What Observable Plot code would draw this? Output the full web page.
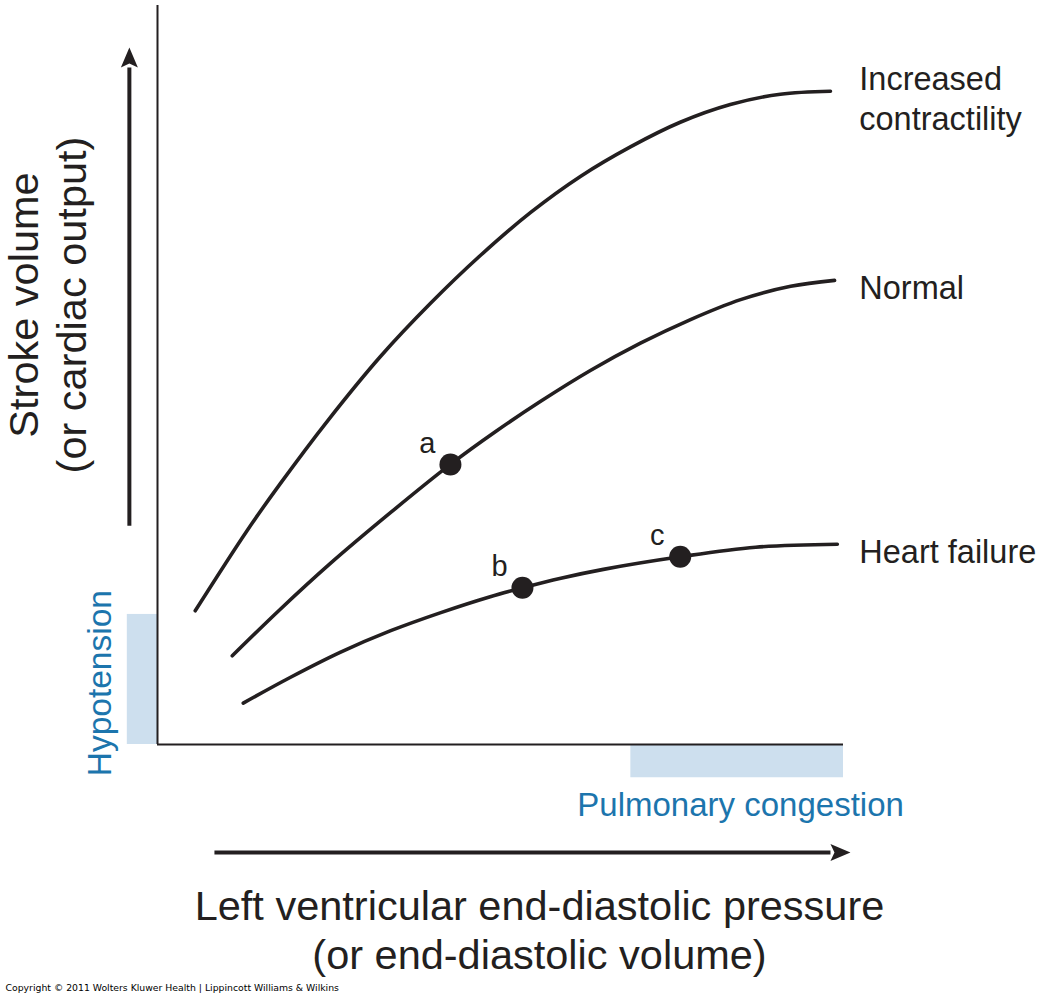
<!DOCTYPE html>
<html>
<head>
<meta charset="utf-8">
<script src="https://cdn.jsdelivr.net/npm/d3@7"></script>
<script src="https://cdn.jsdelivr.net/npm/@observablehq/plot@0.6"></script>
<style>
  html, body { margin: 0; padding: 0; background: #fff; }
</style>
</head>
<body>
<div id="chart"></div>
<script>
// ---- Data (arbitrary units: LVEDP 0–100, stroke volume 0–100) ----
const curveNames = ["Increased contractility", "Normal", "Heart failure"];
const curveLabels = ["Increased\ncontractility", "Normal", "Heart failure"];
const curveLabelX = [102.3, 102.3, 102.3];

const increasedX = [5.5, 13.1, 17.9, 24.8, 32.5, 39.8, 47.1, 54.4, 61.7, 69.0, 76.2, 83.5, 90.8, 98.1];
const increasedY = [18.1, 29.0, 35.3, 43.8, 52.5, 59.7, 66.2, 72.0, 76.9, 80.9, 84.2, 86.6, 88.0, 88.4];

const normalX = [10.9, 17.9, 25.2, 34.0, 42.7, 49.3, 55.8, 63.1, 70.4, 77.7, 85.0, 92.3, 98.7];
const normalY = [12.0, 18.3, 24.5, 31.4, 37.9, 42.35, 46.4, 50.6, 54.3, 57.5, 60.2, 62.0, 62.8];

const failureX = [12.5, 19.4, 26.7, 34.0, 41.3, 48.5, 53.2, 58.8, 65.0, 76.2, 87.2, 99.1];
const failureY = [5.6, 9.1, 12.5, 15.4, 17.85, 20.0, 21.2, 22.5, 23.7, 25.4, 26.7, 27.1];

const pointNames = ["a", "b", "c"];
const pointX = [42.7, 53.2, 76.2];
const pointY = [37.9, 21.2, 25.4];

// shaded zones
const zoneNames = ["Hypotension", "Pulmonary congestion"];
const zoneX1 = [-4.4, 69.0];
const zoneX2 = [0, 100];
const zoneY1 = [0, 0];
const zoneY2 = [17.6, -4.5];
const zoneLabelX = [-8.3, 85.0];
const zoneLabelY = [8.3, -8.3];
const zoneLabelRotate = [-90, 0];

// direction arrows (shaft start -> shaft end, head beyond)
const arrowX1 = [-4.1, 8.3];
const arrowY1 = [29.6, -14.6];
const arrowX2 = [-4.1, 98.1];
const arrowY2 = [91.6, -14.6];
const arrowRotate = [0, 90];

// ---- Build tables ----
const curves = [
  [increasedX, increasedY],
  [normalX, normalY],
  [failureX, failureY]
];
const lineRows = curves.flatMap(([xs, ys], i) =>
  xs.map((x, j) => ({curve: curveNames[i], x, y: ys[j]})));
const endRows = curves.map(([xs, ys], i) =>
  ({curve: curveNames[i], label: curveLabels[i], x: curveLabelX[i], y: ys[ys.length - 1]}));
const pointRows = pointNames.map((n, i) => ({name: n, x: pointX[i], y: pointY[i]}));
const zoneRows = zoneNames.map((n, i) => ({
  name: n, x1: zoneX1[i], x2: zoneX2[i], y1: zoneY1[i], y2: zoneY2[i],
  lx: zoneLabelX[i], ly: zoneLabelY[i], rot: zoneLabelRotate[i]
}));
const arrowRows = arrowX1.map((x1, i) => ({
  x1, y1: arrowY1[i], x2: arrowX2[i], y2: arrowY2[i], rot: arrowRotate[i]
}));

const ink = "#231f20";
const blue = "#1c75ad";
const shade = "#cddfee";

const arrowHead = {
  draw(ctx) {
    ctx.moveTo(0, -20);
    ctx.lineTo(8.5, 0);
    ctx.lineTo(0, -4);
    ctx.lineTo(-8.5, 0);
    ctx.closePath();
  }
};

const chart = Plot.plot({
  width: 1045,
  height: 1000,
  marginLeft: 157,
  marginRight: 202,
  marginTop: 5,
  marginBottom: 256,
  style: {fontFamily: "'Liberation Sans', Arial, Helvetica, sans-serif", background: "#fff"},
  x: {domain: [0, 100], axis: null},
  y: {domain: [0, 100], axis: null},
  marks: [
    // shaded zones
    Plot.rect(zoneRows, {x1: "x1", x2: "x2", y1: "y1", y2: "y2", fill: shade}),
    Plot.text(zoneRows.filter(d => d.rot !== 0), {x: "lx", y: "ly", text: "name", rotate: -90, fill: blue, fontSize: 33.5}),
    Plot.text(zoneRows.filter(d => d.rot === 0), {x: "lx", y: "ly", text: "name", fill: blue, fontSize: 33}),
    // axes frame lines
    Plot.ruleX([0], {y1: 0, y2: 100, stroke: ink, strokeWidth: 2}),
    Plot.ruleY([0], {x1: 0, x2: 100, stroke: ink, strokeWidth: 2}),
    // curves
    Plot.line(lineRows, {x: "x", y: "y", z: "curve", curve: "catmull-rom", stroke: ink, strokeWidth: 3.6}),
    Plot.text(endRows, {x: "x", y: "y", text: "label", textAnchor: "start", lineAnchor: "middle", dy: 6, fontSize: 32.5, lineHeight: 1.22, fill: ink}),
    // points a, b, c
    Plot.dot(pointRows, {x: "x", y: "y", r: 11, fill: ink}),
    Plot.text(pointRows, {x: "x", y: "y", text: "name", dx: -23, dy: -21, fontSize: 29, fill: ink}),
    // direction arrows
    Plot.link(arrowRows, {x1: "x1", y1: "y1", x2: "x2", y2: "y2", stroke: ink, strokeWidth: 4}),
    Plot.dot(arrowRows, {x: "x2", y: "y2", symbol: arrowHead, rotate: "rot", fill: ink, stroke: null}),
    // axis titles
    Plot.text(["Left ventricular end-diastolic pressure\n(or end-diastolic volume)"], {
      frameAnchor: "bottom", textAnchor: "middle", dx: 39, dy: 184, lineAnchor: "middle", fontSize: 41.5, lineHeight: 1.2, fill: ink
    }),
    Plot.text(["Stroke volume\n(or cardiac output)"], {
      frameAnchor: "left", textAnchor: "middle", rotate: -90, dx: -111, dy: -70, lineAnchor: "middle", fontSize: 41.5, lineHeight: 1.16, fill: ink
    }),
    // credit
    Plot.text(["Copyright © 2011 Wolters Kluwer Health | Lippincott Williams & Wilkins"], {
      frameAnchor: "bottom-left", textAnchor: "start", dx: -152, dy: 246, fontSize: 9.3,
      fontFamily: "'DejaVu Sans', Verdana, sans-serif", fill: "#000"
    })
  ]
});

document.getElementById("chart").appendChild(chart);
</script>
</body>
</html>
